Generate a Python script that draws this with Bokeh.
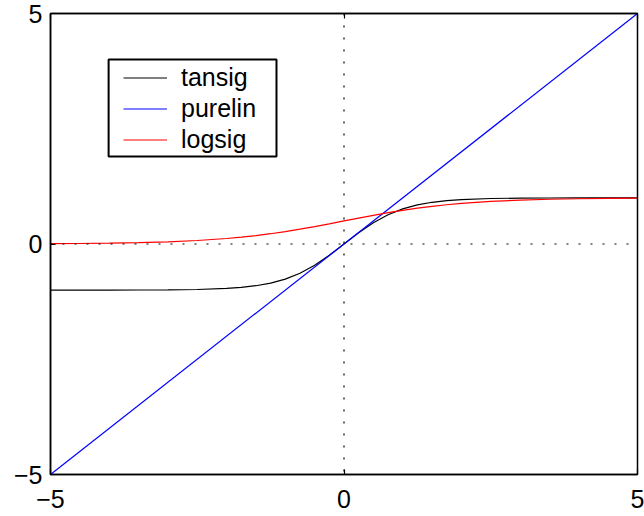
from bokeh.plotting import figure
from bokeh.models import (Span, Legend, LegendItem, FixedTicker, LinearAxis,
                          BoxAnnotation, Range1d)
from bokeh.embed import file_html
from bokeh.resources import INLINE

# ---- data ----
x_vals = [-5, -4.5, -4, -3.5, -3, -2.5, -2, -1.75, -1.5, -1.25, -1, -0.75, -0.5, -0.25,
          0, 0.25, 0.5, 0.75, 1, 1.25, 1.5, 1.75, 2, 2.5, 3, 3.5, 4, 4.5, 5]
tansig_vals = [-1.000, -1.000, -0.999, -0.998, -0.995, -0.987, -0.964, -0.941, -0.905,
               -0.848, -0.762, -0.635, -0.462, -0.245, 0.000, 0.245, 0.462, 0.635,
               0.762, 0.848, 0.905, 0.941, 0.964, 0.987, 0.995, 0.998, 0.999, 1.000, 1.000]
logsig_vals = [0.007, 0.011, 0.018, 0.029, 0.047, 0.076, 0.119, 0.148, 0.182, 0.223,
               0.269, 0.321, 0.378, 0.438, 0.500, 0.562, 0.622, 0.679, 0.731, 0.777,
               0.818, 0.852, 0.881, 0.924, 0.953, 0.971, 0.982, 0.989, 0.993]
purelin_x = [-5, 5]
purelin_y = [-5, 5]
series_names = ["tansig", "purelin", "logsig"]
tick_values = [-5, 0, 5]
tick_labels = {-5: "\u22125", 0: "0", 5: "5"}

FONT = "Liberation Sans"
FS = "25px"

p = figure(width=644, height=516, output_backend="svg", toolbar_location=None,
           x_range=Range1d(-5, 5), y_range=Range1d(-5, 5),
           min_border_left=50, min_border_right=7, min_border_top=13,
           min_border_bottom=42, x_axis_location=None, y_axis_location=None)
p.grid.visible = False
p.outline_line_color = "black"
p.outline_line_width = 1.5
p.background_fill_color = "white"
p.border_fill_color = "white"

def make_axis(standoff):
    ax = LinearAxis(ticker=FixedTicker(ticks=tick_values))
    ax.major_label_overrides = tick_labels
    ax.minor_tick_line_color = None
    ax.major_tick_in = 5
    ax.major_tick_out = 0
    ax.axis_line_color = "black"
    ax.axis_line_width = 1.5
    ax.major_tick_line_color = "black"
    ax.major_tick_line_width = 1.2
    ax.major_label_text_font = FONT
    ax.major_label_text_color = "black"
    ax.major_label_text_font_size = FS
    ax.major_label_standoff = standoff
    return ax

p.add_layout(make_axis(15), "below")
p.add_layout(make_axis(8), "left")

# box-style ticks on the top edge (no labels)
top_ax = LinearAxis(ticker=FixedTicker(ticks=tick_values))
top_ax.major_label_text_alpha = 0
top_ax.major_label_text_font_size = "1px"
top_ax.major_label_standoff = 0
top_ax.minor_tick_line_color = None
top_ax.major_tick_in = 5
top_ax.major_tick_out = 0
top_ax.axis_line_color = "black"
top_ax.axis_line_width = 1.5
top_ax.major_tick_line_color = "black"
top_ax.major_tick_line_width = 1.2
top_ax.major_label_overrides = {v: "" for v in tick_values}
p.add_layout(top_ax, "above")

# dotted zero lines
p.add_layout(Span(location=0, dimension="height", line_color="black",
                  line_dash="2 10", line_width=1.2))
p.add_layout(Span(location=0, dimension="width", line_color="black",
                  line_dash="2 10", line_width=1.2))

r_tan = p.line(x_vals, tansig_vals, line_color="black", line_width=1.2)
r_pur = p.line(purelin_x, purelin_y, line_color="blue", line_width=1.2)
r_log = p.line(x_vals, logsig_vals, line_color="red", line_width=1.2)

# legend frame
p.add_layout(BoxAnnotation(left=-4.01, right=-1.15, top=4.0, bottom=1.9,
                           fill_color="white", fill_alpha=1,
                           line_color="black", line_alpha=1, line_width=2))

legend = Legend(items=[LegendItem(label=series_names[0], renderers=[r_tan]),
                       LegendItem(label=series_names[1], renderers=[r_pur]),
                       LegendItem(label=series_names[2], renderers=[r_log])],
                location=(70, 316), padding=3, spacing=0,
                glyph_width=44, glyph_height=31, label_height=31,
                label_standoff=14, label_text_font=FONT,
                label_text_font_size=FS, label_text_color="black",
                border_line_alpha=0, background_fill_alpha=0, margin=0)
p.add_layout(legend, "center")

open("out.html", "w").write(file_html(p, INLINE))
